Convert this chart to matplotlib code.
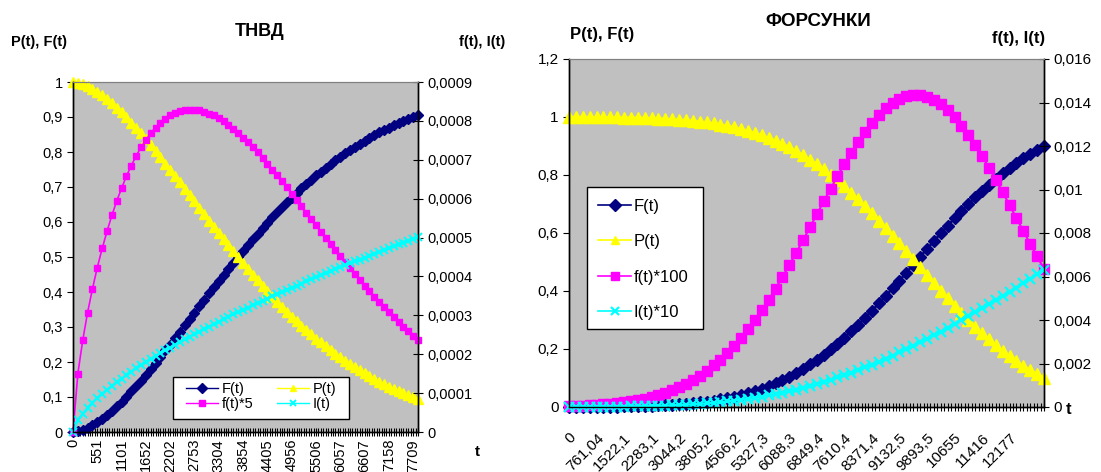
import numpy as np
import matplotlib.pyplot as plt
from matplotlib.patches import Rectangle
from matplotlib.ticker import FuncFormatter

plt.rcParams['font.family'] = ['Liberation Sans', 'DejaVu Sans']

# ---- ТНВД: values read every 2nd category (category step 55.07) ----
tnvd_labels = ['0', '551', '1101', '1652', '2202', '2753', '3304', '3854', '4405',
               '4956', '5506', '6057', '6607', '7158', '7709']
P_tnvd = [1.000, 0.998, 0.994, 0.988, 0.980, 0.972, 0.962, 0.951, 0.939, 0.926,
          0.913, 0.899, 0.884, 0.869, 0.853, 0.836, 0.820, 0.802, 0.785, 0.767,
          0.750, 0.732, 0.713, 0.695, 0.677, 0.659, 0.641, 0.622, 0.604, 0.586,
          0.568, 0.551, 0.533, 0.516, 0.499, 0.482, 0.466, 0.449, 0.433, 0.418,
          0.402, 0.387, 0.372, 0.358, 0.344, 0.330, 0.317, 0.304, 0.292, 0.279,
          0.267, 0.256, 0.245, 0.234, 0.223, 0.213, 0.203, 0.194, 0.185, 0.176,
          0.168, 0.160, 0.152, 0.144, 0.137, 0.130, 0.124, 0.117, 0.111, 0.105,
          0.100, 0.094]
F_tnvd = [0.000, 0.002, 0.006, 0.012, 0.020, 0.028, 0.038, 0.049, 0.061, 0.074,
          0.087, 0.101, 0.116, 0.131, 0.147, 0.164, 0.180, 0.198, 0.215, 0.233,
          0.250, 0.268, 0.287, 0.305, 0.323, 0.341, 0.359, 0.378, 0.396, 0.414,
          0.432, 0.449, 0.467, 0.484, 0.501, 0.518, 0.534, 0.551, 0.567, 0.582,
          0.598, 0.613, 0.628, 0.642, 0.656, 0.670, 0.683, 0.696, 0.708, 0.721,
          0.733, 0.744, 0.755, 0.766, 0.777, 0.787, 0.797, 0.806, 0.815, 0.824,
          0.832, 0.840, 0.848, 0.856, 0.863, 0.870, 0.877, 0.883, 0.889, 0.895,
          0.900, 0.906]
f5_tnvd = [0.0, 0.000150, 0.000236, 0.000307, 0.000368, 0.000423, 0.000472, 0.000516,
           0.000557, 0.000594, 0.000627, 0.000658, 0.000685, 0.000710, 0.000732, 0.000751,
           0.000768, 0.000783, 0.000795, 0.000806, 0.000814, 0.000821, 0.000825, 0.000828,
           0.000829, 0.000829, 0.000827, 0.000824, 0.000819, 0.000814, 0.000807, 0.000799,
           0.000790, 0.000780, 0.000769, 0.000757, 0.000745, 0.000732, 0.000719, 0.000705,
           0.000690, 0.000675, 0.000660, 0.000645, 0.000629, 0.000613, 0.000597, 0.000580,
           0.000564, 0.000548, 0.000532, 0.000515, 0.000499, 0.000483, 0.000467, 0.000452,
           0.000436, 0.000421, 0.000406, 0.000391, 0.000376, 0.000362, 0.000348, 0.000334,
           0.000321, 0.000308, 0.000295, 0.000283, 0.000270, 0.000259, 0.000247, 0.000236]
I_tnvd = [0.0, 0.0000301, 0.0000475, 0.0000621, 0.0000751, 0.0000870, 0.0000981, 0.0001086,
          0.0001186, 0.0001282, 0.0001375, 0.0001464, 0.0001550, 0.0001634, 0.0001716, 0.0001796,
          0.0001875, 0.0001951, 0.0002026, 0.0002100, 0.0002172, 0.0002243, 0.0002313, 0.0002382,
          0.0002450, 0.0002517, 0.0002583, 0.0002648, 0.0002712, 0.0002775, 0.0002838, 0.0002901,
          0.0002962, 0.0003023, 0.0003083, 0.0003142, 0.0003201, 0.0003260, 0.0003318, 0.0003375,
          0.0003432, 0.0003488, 0.0003544, 0.0003599, 0.0003654, 0.0003709, 0.0003763, 0.0003817,
          0.0003871, 0.0003924, 0.0003976, 0.0004028, 0.0004080, 0.0004132, 0.0004183, 0.0004234,
          0.0004285, 0.0004335, 0.0004385, 0.0004435, 0.0004485, 0.0004534, 0.0004583, 0.0004631,
          0.0004680, 0.0004728, 0.0004776, 0.0004824, 0.0004871, 0.0004918, 0.0004965, 0.0005012]

# ---- ФОРСУНКИ: values read every 2nd category (category step 95.13) ----
fors_labels = ['0', '761,04', '1522,1', '2283,1', '3044,2', '3805,2', '4566,2', '5327,3',
               '6088,3', '6849,4', '7610,4', '8371,4', '9132,5', '9893,5', '10655', '11416',
               '12177']
P_fors = [0.9997, 0.9996, 0.9995, 0.9994, 0.9992, 0.9990, 0.9988, 0.9985, 0.9981, 0.9977,
          0.9971, 0.9965, 0.9957, 0.9947, 0.9936, 0.9922, 0.9906, 0.9888, 0.9866, 0.9841,
          0.9811, 0.9777, 0.9738, 0.9694, 0.9643, 0.9586, 0.9522, 0.9450, 0.9370, 0.9280,
          0.9182, 0.9073, 0.8954, 0.8825, 0.8685, 0.8533, 0.8370, 0.8196, 0.8010, 0.7814,
          0.7607, 0.7389, 0.7162, 0.6926, 0.6681, 0.6429, 0.6171, 0.5907, 0.5639, 0.5368,
          0.5096, 0.4823, 0.4551, 0.4281, 0.4014, 0.3752, 0.3495, 0.3246, 0.3003, 0.2770,
          0.2545, 0.2331, 0.2127, 0.1933, 0.1751, 0.1580, 0.1421, 0.1273, 0.1135, 0.1009]
F_fors = [0.0003, 0.0004, 0.0005, 0.0006, 0.0008, 0.0010, 0.0012, 0.0015, 0.0019, 0.0023,
          0.0029, 0.0035, 0.0043, 0.0053, 0.0064, 0.0078, 0.0094, 0.0112, 0.0134, 0.0159,
          0.0189, 0.0223, 0.0262, 0.0306, 0.0357, 0.0414, 0.0478, 0.0550, 0.0630, 0.0720,
          0.0818, 0.0927, 0.1046, 0.1175, 0.1315, 0.1467, 0.1630, 0.1804, 0.1990, 0.2186,
          0.2393, 0.2611, 0.2838, 0.3074, 0.3319, 0.3571, 0.3829, 0.4093, 0.4361, 0.4632,
          0.4904, 0.5177, 0.5449, 0.5719, 0.5986, 0.6248, 0.6505, 0.6754, 0.6997, 0.7230,
          0.7455, 0.7669, 0.7873, 0.8067, 0.8249, 0.8420, 0.8579, 0.8727, 0.8865, 0.8991]
f100_fors = [0.0000379, 0.0000478, 0.0000601, 0.0000752, 0.0000937, 0.000116, 0.000143,
             0.000176, 0.000215, 0.000262, 0.000317, 0.000382, 0.000458, 0.000547, 0.000650,
             0.000769, 0.000905, 0.00106, 0.00124, 0.00144, 0.00166, 0.00191, 0.00218,
             0.00249, 0.00282, 0.00319, 0.00358, 0.00400, 0.00445, 0.00493, 0.00544,
             0.00597, 0.00652, 0.00709, 0.00767, 0.00826, 0.00886, 0.00945, 0.01004,
             0.01061, 0.01117, 0.01169, 0.01219, 0.01264, 0.01306, 0.01342, 0.01373,
             0.01398, 0.01417, 0.01429, 0.01435, 0.01434, 0.01426, 0.01412, 0.01391,
             0.01364, 0.01332, 0.01294, 0.01251, 0.01204, 0.01154, 0.01100, 0.01044,
             0.00987, 0.00928, 0.00868, 0.00809, 0.00750, 0.00692, 0.00636]
I10_fors = [0.0000038, 0.0000048, 0.0000060, 0.0000075, 0.0000094, 0.0000116, 0.0000143,
            0.0000176, 0.0000215, 0.0000262, 0.0000318, 0.0000383, 0.0000460, 0.0000550,
            0.0000654, 0.0000775, 0.0000914, 0.000107, 0.000125, 0.000146, 0.000169,
            0.000195, 0.000224, 0.000257, 0.000293, 0.000332, 0.000376, 0.000423, 0.000475,
            0.000532, 0.000593, 0.000658, 0.000728, 0.000803, 0.000883, 0.000968, 0.001058,
            0.001153, 0.001253, 0.001358, 0.001468, 0.001582, 0.001702, 0.001826, 0.001954,
            0.002087, 0.002225, 0.002366, 0.002512, 0.002662, 0.002815, 0.002973, 0.003133,
            0.003298, 0.003465, 0.003636, 0.003810, 0.003987, 0.004167, 0.004349, 0.004534,
            0.004721, 0.004911, 0.005103, 0.005297, 0.005494, 0.005692, 0.005892, 0.006094,
            0.006297]

W, H = 1101, 472
fig = plt.figure(figsize=(W / 100, H / 100), dpi=100)
fig.patch.set_facecolor('white')


def px(x, y):
    return x / W, 1 - y / H


def comma(v, pos):
    return ('%g' % round(v, 7)).replace('.', ',')


def style_axes(ax, ax2, ncat, labels, every, fs, rot):
    ax.set_facecolor('#C0C0C0')
    ax.set_xlim(0, ncat - 1)
    ax.set_xticks(np.arange(0, len(labels) * every, every))
    ax.set_xticks(np.arange(ncat), minor=True)
    if rot == 90:
        ax.set_xticklabels(labels, rotation=90, ha='center', va='top')
    else:
        ax.set_xticklabels(labels, rotation=45, ha='right', va='top', rotation_mode='anchor')
    ax.tick_params(axis='x', which='both', direction='inout', length=6, width=0.8,
                   labelsize=fs, pad=2 if rot == 90 else 14)
    ax.tick_params(axis='y', direction='out', length=4, width=0.8, labelsize=fs)
    ax2.tick_params(axis='y', direction='inout', length=7, width=0.8, labelsize=fs)
    ax.yaxis.set_major_formatter(FuncFormatter(comma))
    ax2.yaxis.set_major_formatter(FuncFormatter(comma))
    for a in (ax, ax2):
        a.spines['top'].set_color('#808080')
        for s in ('left', 'right', 'bottom'):
            a.spines[s].set_color('black')
            a.spines[s].set_linewidth(1)


# ---------------- left chart ----------------
ax1 = fig.add_axes([73 / W, 1 - 432 / H, 345 / W, 350 / H])
ax1b = ax1.twinx()
x1 = np.arange(len(P_tnvd)) * 2
ax1.set_ylim(0, 1)
ax1.set_yticks(np.arange(0, 1.01, 0.1))
ax1b.set_ylim(0, 0.0009)
ax1b.set_yticks(np.arange(0, 0.00091, 0.0001))
style_axes(ax1, ax1b, 143, tnvd_labels, 10, 10.5, 90)

hF, = ax1.plot(x1, F_tnvd, color='#000080', lw=1.5, marker='D', ms=5.2, clip_on=False)
hP, = ax1.plot(x1, P_tnvd, color='#FFFF00', lw=1.5, marker='^', ms=7.2, clip_on=False)
hf, = ax1b.plot(x1, f5_tnvd, color='#FF00FF', lw=1.2, marker='s', ms=5, clip_on=False)
hI, = ax1b.plot(x1, I_tnvd, color='#00FFFF', lw=1.5, marker='x', ms=5.5, mew=1.4, clip_on=False)

x0, y0 = px(173, 419)
x1_, y1_ = px(349, 377)
ax1b.add_patch(Rectangle((x0, y0), x1_ - x0, y1_ - y0, transform=fig.transFigure,
                         facecolor='white', edgecolor='black', lw=1, zorder=4, clip_on=False))
lg1 = ax1b.legend([hF, hf, hP, hI], ['F(t)', 'f(t)*5', 'P(t)', 'I(t)'], ncol=2,
                  loc='upper left', bbox_to_anchor=px(186, 382), bbox_transform=fig.transFigure,
                  frameon=False, fontsize=10.5, numpoints=1, handlelength=2.2,
                  handletextpad=0.25, columnspacing=1.6, labelspacing=0.05, borderpad=0,
                  borderaxespad=0)
for ln in lg1.get_lines():
    ln.set_markersize(5)
    ln.set_linewidth(1)

fig.text(*px(39, 42), 'P(t), F(t)', ha='center', va='center', fontsize=10.5, weight='bold')
fig.text(*px(260, 32), 'ТНВД', ha='center', va='center', fontsize=13, weight='bold')
fig.text(*px(482, 42), 'f(t), I(t)', ha='center', va='center', fontsize=10.5, weight='bold')
fig.text(*px(477, 452), 't', ha='center', va='center', fontsize=11, weight='bold')

# ---------------- right chart ----------------
ax2 = fig.add_axes([569 / W, 1 - 407 / H, 475 / W, 348 / H])
ax2b = ax2.twinx()
x2 = np.arange(len(P_fors)) * 2
ax2.set_ylim(0, 1.2)
ax2.set_yticks(np.arange(0, 1.21, 0.2))
ax2b.set_ylim(0, 0.016)
ax2b.set_yticks(np.arange(0, 0.0161, 0.002))
style_axes(ax2, ax2b, 139, fors_labels, 8, 11, 45)

gF, = ax2.plot(x2, F_fors, color='#000080', lw=1.8, marker='D', ms=6.5, clip_on=False)
gP, = ax2.plot(x2, P_fors, color='#FFFF00', lw=1.8, marker='^', ms=8.5, clip_on=False)
gf, = ax2b.plot(x2, f100_fors, color='#FF00FF', lw=1.5, marker='s', ms=6.8, clip_on=False)
gI, = ax2b.plot(x2, I10_fors, color='#00FFFF', lw=1.8, marker='x', ms=6.5, mew=1.6, clip_on=False)

x0, y0 = px(587, 329)
x1_, y1_ = px(703, 187)
ax2b.add_patch(Rectangle((x0, y0), x1_ - x0, y1_ - y0, transform=fig.transFigure,
                         facecolor='white', edgecolor='black', lw=1, zorder=4, clip_on=False))
lg2 = ax2b.legend([gF, gP, gf, gI], ['F(t)', 'P(t)', 'f(t)*100', 'I(t)*10'],
                  loc='upper left', bbox_to_anchor=px(598, 199), bbox_transform=fig.transFigure,
                  frameon=False, fontsize=12, numpoints=1, handlelength=2.0, handletextpad=0.15,
                  labelspacing=1.22, borderpad=0, borderaxespad=0)
for ln in lg2.get_lines():
    ln.set_markersize(6)
    ln.set_linewidth(1.2)

fig.text(*px(818, 21), 'ФОРСУНКИ', ha='center', va='center', fontsize=13.5, weight='bold')
fig.text(*px(602, 35), 'P(t), F(t)', ha='center', va='center', fontsize=12, weight='bold')
fig.text(*px(1019, 39), 'f(t), I(t)', ha='center', va='center', fontsize=12, weight='bold')
fig.text(*px(1069, 410), 't', ha='center', va='center', fontsize=12, weight='bold')

fig.savefig('out.png', dpi=100)
